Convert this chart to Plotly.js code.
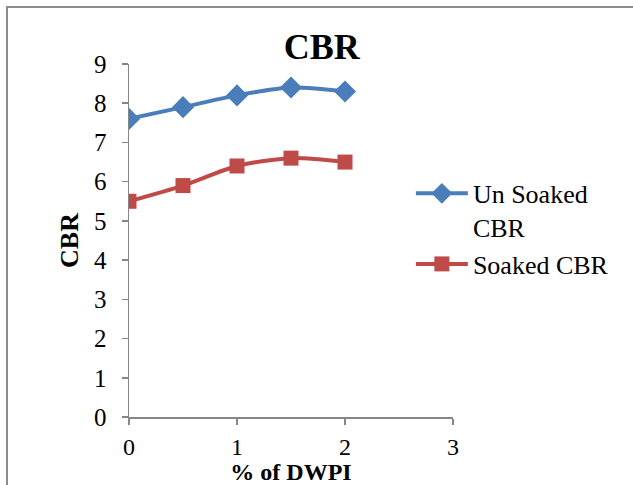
<!DOCTYPE html>
<html>
<head>
<meta charset="utf-8">
<script src="https://cdn.plot.ly/plotly-3.0.1.min.js"></script>
<style>
html,body{margin:0;padding:0;background:#fff;overflow:hidden;}
#chart{width:633px;height:485px;}
</style>
</head>
<body>
<div id="chart"></div>
<script>
const dwpi = [0, 0.5, 1, 1.5, 2];
const unsoakedCBR = [7.6, 7.9, 8.2, 8.4, 8.3];
const soakedCBR = [5.5, 5.9, 6.4, 6.6, 6.5];
const seriesNames = ['Un Soaked<br>CBR', 'Soaked CBR'];
const xTicks = [0, 1, 2, 3];
const yTicks = [0, 1, 2, 3, 4, 5, 6, 7, 8, 9];

const serif = 'Liberation Serif, Times New Roman, serif';
const axisColor = '#868686';

const traces = [
  {
    x: dwpi, y: unsoakedCBR, name: seriesNames[0],
    type: 'scatter', mode: 'lines+markers',
    line: {color: '#4A7EBB', width: 4, shape: 'spline', smoothing: 0.8},
    marker: {symbol: 'diamond', size: 17, color: '#4A7EBB'}
  },
  {
    x: dwpi, y: soakedCBR, name: seriesNames[1],
    type: 'scatter', mode: 'lines+markers',
    line: {color: '#BE4B48', width: 4, shape: 'spline', smoothing: 0.8},
    marker: {symbol: 'square', size: 15, color: '#BE4B48'}
  }
];

const layout = {
  width: 633, height: 485,
  margin: {l: 129, r: 180, t: 64, b: 68},
  paper_bgcolor: '#fff', plot_bgcolor: '#fff',
  font: {family: serif, size: 25, color: '#000'},
  title: {
    text: '<b>CBR</b>', font: {family: serif, size: 36, color: '#000'},
    xref: 'paper', x: 0.595, xanchor: 'center',
    yref: 'container', y: 0.905, yanchor: 'middle'
  },
  xaxis: {
    range: [0, 3], tickvals: xTicks, ticktext: xTicks.map(String),
    showgrid: false, zeroline: false, showline: true, linecolor: axisColor, linewidth: 1.5,
    ticks: 'outside', ticklen: 6, tickcolor: axisColor, tickwidth: 1.5,
    ticklabelstandoff: 2,
    tickfont: {family: serif, size: 24, color: '#000'},
    title: {text: '<b>% of DWPI</b>', font: {family: serif, size: 24, color: '#000'}, standoff: 0},
    automargin: false, fixedrange: true
  },
  yaxis: {
    range: [0, 9], tickvals: yTicks, ticktext: yTicks.map(String),
    showgrid: false, zeroline: false, showline: true, linecolor: axisColor, linewidth: 1.5,
    ticks: 'outside', ticklen: 6, tickcolor: axisColor, tickwidth: 1.5,
    ticklabelstandoff: 10,
    tickfont: {family: serif, size: 25, color: '#000'},
    title: {text: '<b>CBR</b>', font: {family: serif, size: 26, color: '#000'}, standoff: 8},
    automargin: false, fixedrange: true
  },
  showlegend: true,
  legend: {
    x: 0.87, xanchor: 'left', y: 0.7, yanchor: 'top',
    font: {family: serif, size: 26, color: '#000'},
    bgcolor: 'rgba(0,0,0,0)', borderwidth: 0,
    valign: 'top', tracegroupgap: 15, itemwidth: 52
  },
  shapes: [{
    type: 'rect', xref: 'paper', yref: 'paper',
    x0: (7 - 129) / 324, x1: 2, y0: -1, y1: (417 - 7) / 353,
    line: {color: '#8c8c8c', width: 2}, fillcolor: 'rgba(0,0,0,0)', layer: 'below'
  }]
};

Plotly.newPlot('chart', traces, layout, {displayModeBar: false, staticPlot: true});
</script>
</body>
</html>
